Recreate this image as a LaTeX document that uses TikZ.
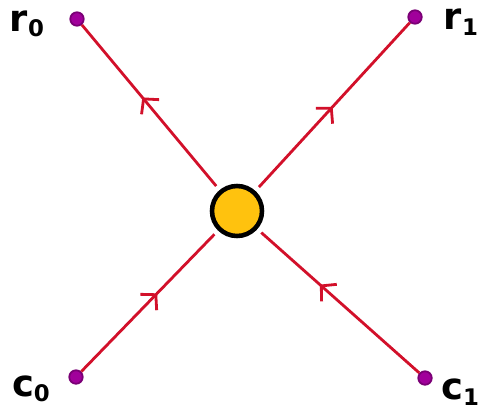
\documentclass[tikz,border=0pt]{standalone}
\usepackage{fontspec}
\setmainfont{DejaVu Sans}
\usetikzlibrary{decorations.markings,arrows.meta,positioning}
\definecolor{wirered}{HTML}{D2102A}
\definecolor{hubyellow}{HTML}{FFC20E}
\definecolor{dotfill}{HTML}{A1009B}
\definecolor{dotrim}{HTML}{7A0075}
\newcommand{\dotlabel}[2]{#1\raisebox{-0.15em}{\fontsize{13}{13}\selectfont #2}}

\begin{document}
\begin{tikzpicture}[x=0.02cm,y=-0.02cm,
  dotnode/.style={circle,fill=dotfill,draw=dotrim,line width=1pt,minimum size=0.27cm,inner sep=0pt},
  hubnode/.style={circle,fill=hubyellow,draw=black,line width=2.6pt,minimum size=1cm,inner sep=0pt,outer sep=0.15cm},
  wire/.style={wirered,line width=1.6pt,
    decoration={markings,mark=at position #1 with {\arrow{Straight Barb[length=6pt,width=13pt]}}},
    postaction={decorate}},
  tag/.style={font=\bfseries\fontsize{21}{21}\selectfont,inner sep=0pt}]
        \useasboundingbox (0,0) rectangle (482,412);
        \node[hubnode] (hub) at (237,211) {};
        \node[dotnode] (r0) at (77,19) {};
        \node[dotnode] (r1) at (415,17) {};
        \node[dotnode] (c0) at (76,377) {};
        \node[dotnode] (c1) at (425,378) {};
        \node[tag] (r0tag) at (27,24) {\dotlabel{r}{0}};
        \node[tag] (r1tag) at (461,22) {\dotlabel{r}{1}};
        \node[tag] (c0tag) at (31,389) {\dotlabel{c}{0}};
        \node[tag] (c1tag) at (460,392) {\dotlabel{c}{1}};
        % wires out to the r's, in from the c's
        \draw[wire=0.55] (hub) -- (r0);
        \draw[wire=0.49] (hub) -- (r1);
        \draw[wire=0.57] (c0) -- (hub);
        \draw[wire=0.63] (c1) -- (hub);
      \end{tikzpicture}
\end{document}
